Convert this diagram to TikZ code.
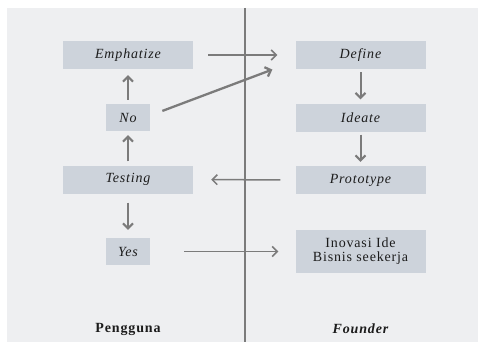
\documentclass[tikz,border=0pt]{standalone}
\usepackage{fontspec}
\setmainfont{Liberation Serif}
\newfontfamily\renggang[LetterSpace=6]{Liberation Serif}
\newfontfamily\renggangbold[LetterSpace=6]{Liberation Serif}
\usetikzlibrary{arrows.meta}
\definecolor{panel}{HTML}{EEEFF1}
\definecolor{kotak}{HTML}{CDD3DB}
\definecolor{garis}{HTML}{7B7B7B}
\definecolor{teks}{HTML}{1C1C1C}
\begin{document}
\begin{tikzpicture}[x=1pt,y=-1pt,
    box/.style={fill=kotak, minimum width=130pt, minimum height=28pt, inner sep=0pt,
      text=teks, font=\renggang\itshape\fontsize{14}{14}\selectfont},
    boxkecil/.style={box, minimum width=44pt, minimum height=27pt},
    judul/.style={text=teks, inner sep=0pt, font=\renggangbold\bfseries\fontsize{14}{15}\selectfont},
    panah/.style={draw=garis, line width=1.5pt, -{Straight Barb[length=5pt,width=10pt]}},
    panahtegak/.style={panah, line width=2pt}]

      % latar dan garis pemisah
      \useasboundingbox (0,0) rectangle (478,342);
      \fill[panel] (7,8) rectangle (478,342);                         % panel
      \draw[garis, line width=2.6pt] (245,8) -- (245,342);            % pemisah

      % sisi pengguna
      \node[box] (emphatize) at (128,55) {Emphatize};
      \node[boxkecil] (no) at (128,117.5) {No};
      \node[box] (testing) at (128,179.5) {Testing};
      \node[boxkecil] (yes) at (128,251.5) {Yes};
      \node[judul] (pengguna) at (128,329) {Pengguna};

      % sisi founder
      \node[box] (define) at (360.5,55) {Define};
      \node[box] (ideate) at (360.5,117.5) {Ideate};
      \node[box] (prototype) at (360.5,180) {Prototype};
      \node[box, minimum height=43pt, align=center, font=\renggang\fontsize{14}{14}\selectfont]
        (inovasi) at (360.5,251.5) {Inovasi Ide\\Bisnis seekerja};
      \node[judul, font=\renggangbold\bfseries\itshape\fontsize{14}{15}\selectfont]
        (founder) at (360.5,329) {Founder};

      % panah
      \draw[panah, shorten <=15pt, shorten >=18pt] (emphatize) -- (define);          % atas
      \draw[panah, line width=2.3pt, shorten <=13pt, shorten >=1pt]
        ([yshift=2pt]no.east) -- ([xshift=-22pt]define.south west);                  % miring
      \draw[panahtegak, shorten <=4pt, shorten >=6pt] (no) -- (emphatize);
      \draw[panahtegak, shorten <=4pt, shorten >=4pt] (testing) -- (no);
      \draw[panahtegak, shorten <=9pt, shorten >=8pt] (testing) -- (yes);
      \draw[panahtegak, shorten <=3pt, shorten >=4pt] (define) -- (ideate);
      \draw[panahtegak, shorten <=3pt, shorten >=4pt] (ideate) -- (prototype);
      \draw[panah, shorten <=15pt, shorten >=18pt] (prototype) -- (testing);          % balik
      \draw[panah, shorten <=34pt, shorten >=17pt] (yes) -- (inovasi);                % bawah

\end{tikzpicture}
\end{document}
